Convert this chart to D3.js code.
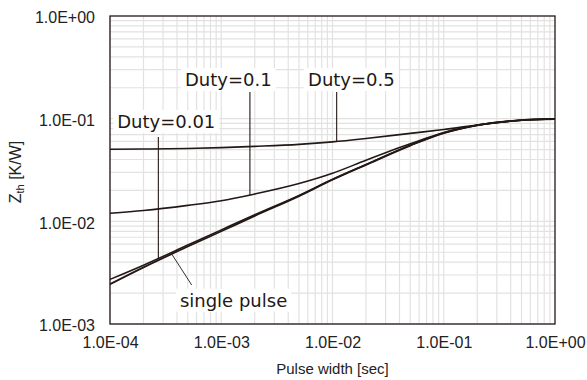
<!DOCTYPE html>
<html>
<head>
<meta charset="utf-8">
<script src="https://cdn.jsdelivr.net/npm/d3@7"></script>
<style>
  body { margin: 0; background: #fff; }
  svg { display: block; }
</style>
</head>
<body>
<svg id="chart" width="587" height="380"></svg>
<script>
// pulse width [sec]
var pulseWidth = [1e-4, 2e-4, 5e-4, 1e-3, 2e-3, 5e-3, 1e-2, 2e-2, 5e-2, 1e-1, 2e-1, 5e-1, 1];

// Zth [K/W]
var singlePulse = [0.00244, 0.00356, 0.00568, 0.0080, 0.0113, 0.0176, 0.0254, 0.0355, 0.0547, 0.0724, 0.0861, 0.0966, 0.0993];
var duty001 = [0.00272, 0.00374, 0.00587, 0.00826, 0.0116, 0.0179, 0.0257, 0.0358, 0.0551, 0.0726, 0.0863, 0.0966, 0.0993];
var duty01 = [0.01197, 0.01274, 0.01430, 0.01585, 0.01845, 0.02333, 0.02938, 0.03936, 0.05689, 0.07328, 0.0865, 0.0966, 0.0993];
var duty05 = [0.0504, 0.0506, 0.0513, 0.0522, 0.0537, 0.0562, 0.0594, 0.0641, 0.0719, 0.0785, 0.0867, 0.0966, 0.0993];

var xTicks = [1e-4, 1e-3, 1e-2, 1e-1, 1];
var xTickLabels = ["1.0E-04", "1.0E-03", "1.0E-02", "1.0E-01", "1.0E+00"];
var yTicks = [1e-3, 1e-2, 1e-1, 1];
var yTickLabels = ["1.0E-03", "1.0E-02", "1.0E-01", "1.0E+00"];

var series = [
  { name: "single pulse", values: singlePulse },
  { name: "Duty=0.01", values: duty001 },
  { name: "Duty=0.1", values: duty01 },
  { name: "Duty=0.5", values: duty05 }
];

var ink = "#231815";
var svg = d3.select("#chart"),
    margin = {top: 16, right: 32, bottom: 56, left: 110},
    width = +svg.attr("width") - margin.left - margin.right,
    height = +svg.attr("height") - margin.top - margin.bottom,
    g = svg.append("g").attr("transform", "translate(" + margin.left + "," + margin.top + ")");

var x = d3.scaleLog().domain([1e-4, 1]).range([0, width]);
var y = d3.scaleLog().domain([1e-3, 1]).range([height, 0]);

// minor grid: 1..9 per decade
var xGrid = [], yGrid = [];
for (var e = -4; e < 0; e++) for (var m = 1; m < 10; m++) xGrid.push(m * Math.pow(10, e));
for (var e2 = -3; e2 < 0; e2++) for (var m2 = 1; m2 < 10; m2++) yGrid.push(m2 * Math.pow(10, e2));

g.append("g").selectAll("line").data(xGrid).enter().append("line")
    .attr("x1", function(d) { return x(d); }).attr("x2", function(d) { return x(d); })
    .attr("y1", 0).attr("y2", height)
    .attr("stroke", "#e2e2e2").attr("stroke-width", 1.2);
g.append("g").selectAll("line").data(yGrid).enter().append("line")
    .attr("y1", function(d) { return y(d); }).attr("y2", function(d) { return y(d); })
    .attr("x1", 0).attr("x2", width)
    .attr("stroke", "#e2e2e2").attr("stroke-width", 1.2);

// axes
var xAxis = g.append("g")
    .attr("transform", "translate(0," + height + ")")
    .call(d3.axisBottom(x).tickValues(xTicks).tickSize(0).tickPadding(12.5)
      .tickFormat(function(d, i) { return xTickLabels[i]; }));
var yAxis = g.append("g")
    .call(d3.axisLeft(y).tickValues(yTicks).tickSize(0).tickPadding(15)
      .tickFormat(function(d, i) { return yTickLabels[i]; }));
[xAxis, yAxis].forEach(function(a) {
  a.select(".domain").remove();
  a.selectAll("text")
    .attr("font-family", "'Liberation Sans', Arial, sans-serif")
    .attr("font-size", 16).attr("fill", "#222");
});
yAxis.selectAll("text").attr("dy", "0.42em");

// curves
var line = d3.line()
    .x(function(d) { return x(d[0]); })
    .y(function(d) { return y(d[1]); })
    .curve(d3.curveMonotoneX);

series.forEach(function(s) {
  g.append("path")
      .datum(pulseWidth.map(function(t, i) { return [t, s.values[i]]; }))
      .attr("fill", "none")
      .attr("stroke", ink)
      .attr("stroke-width", s.name === "single pulse" ? 1.8 : 1.6)
      .attr("stroke-linejoin", "round")
      .attr("d", line);
});

// value of a series at t, interpolated in log space
function valueAt(values, t) {
  var lt = Math.log10(t);
  for (var i = 0; i < pulseWidth.length - 1; i++) {
    var a = Math.log10(pulseWidth[i]), b = Math.log10(pulseWidth[i + 1]);
    if (lt >= a && lt <= b) {
      var f = (lt - a) / (b - a);
      return Math.pow(10, Math.log10(values[i]) + f * (Math.log10(values[i + 1]) - Math.log10(values[i])));
    }
  }
  return values[values.length - 1];
}

// labels with leader lines (data units)
var labels = [
  { text: "Duty=0.1", tx: 4.72e-4, ty: 0.208, lx: 1.81e-3, ly: 0.182, target: duty01 },
  { text: "Duty=0.5", tx: 6.03e-3, ty: 0.208, lx: 1.09e-2, ly: 0.182, target: duty05 },
  { text: "Duty=0.01", tx: 1.16e-4, ty: 0.0811, lx: 2.72e-4, ly: 0.0663, target: duty001 },
  { text: "single pulse", tx: 4.25e-4, ty: 0.001475, lx: 3.59e-4, ly: null, ex: 5.42e-4, ey: 0.0024, target: singlePulse }
];

labels.forEach(function(l) {
  var lab = g.append("g");
  var txt = lab.append("text")
      .attr("x", x(l.tx)).attr("y", y(l.ty))
      .attr("font-family", "'DejaVu Sans', Verdana, sans-serif")
      .attr("font-size", 18).attr("fill", ink)
      .text(l.text);
  var bb = txt.node().getBBox();
  lab.insert("rect", "text")
      .attr("x", bb.x - 4).attr("y", bb.y - 1)
      .attr("width", bb.width + 8).attr("height", bb.height + 2)
      .attr("fill", "#fff");
  var cy = valueAt(l.target, l.lx);
  if (l.ly !== null) {
    g.append("line")
        .attr("x1", x(l.lx)).attr("x2", x(l.lx))
        .attr("y1", y(l.ly)).attr("y2", y(cy))
        .attr("stroke", ink).attr("stroke-width", 1.1);
  } else {
    g.append("line")
        .attr("x1", x(l.lx)).attr("y1", y(cy))
        .attr("x2", x(l.ex)).attr("y2", y(l.ey))
        .attr("stroke", ink).attr("stroke-width", 0.9);
  }
});

// frame
g.append("rect")
    .attr("width", width).attr("height", height)
    .attr("fill", "none").attr("stroke", ink).attr("stroke-width", 1.3);

// axis titles
svg.append("text")
    .attr("x", margin.left + width / 2).attr("y", 374)
    .attr("text-anchor", "middle")
    .attr("font-family", "'Liberation Sans', Arial, sans-serif")
    .attr("font-size", 15).attr("fill", "#222")
    .text("Pulse width [sec]");

var yt = svg.append("text")
    .attr("transform", "translate(21,172) rotate(-90)")
    .attr("text-anchor", "middle")
    .attr("font-family", "'Liberation Sans', Arial, sans-serif")
    .attr("font-size", 16).attr("fill", "#222");
yt.append("tspan").text("Z");
yt.append("tspan").attr("font-size", 11).attr("dy", 3).text("th");
yt.append("tspan").attr("dy", -3).text(" [K/W]");
</script>
</body>
</html>
